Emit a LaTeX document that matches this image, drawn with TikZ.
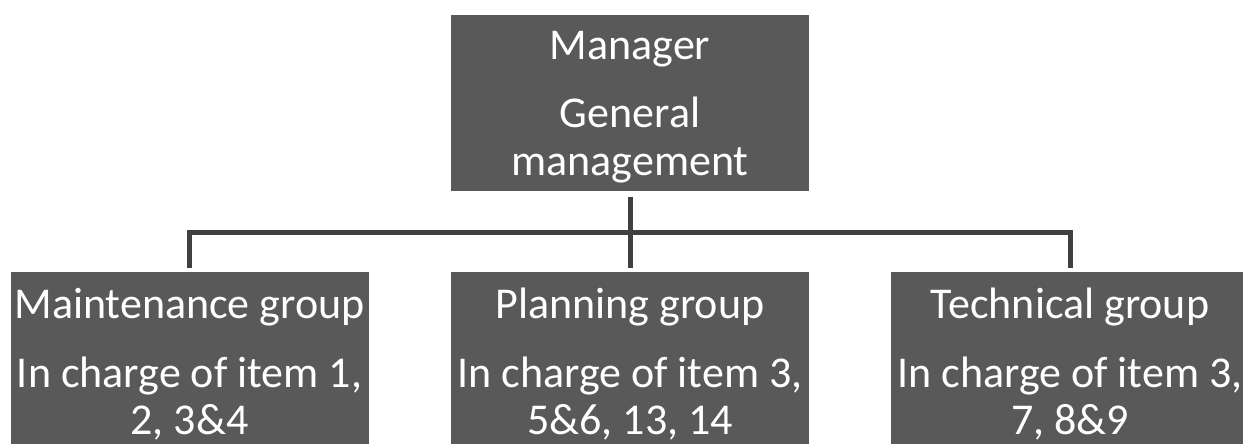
\documentclass[tikz,border=0pt]{standalone}
\usepackage{fontspec}
\setmainfont{Carlito}
\definecolor{boxgray}{HTML}{595959}
\definecolor{linegray}{HTML}{404040}
\begin{document}
\begin{tikzpicture}[x=1pt,y=-1pt,
  unit/.style={fill=boxgray, minimum width=358pt, minimum height=176pt,
    inner sep=0pt},
  unittext/.style={inner sep=0pt, align=center, text=white,
    font=\fontsize{44}{47.5}\selectfont},
  link/.style={draw=linegray, line width=5pt, line join=miter}]
  \useasboundingbox (0,0) rectangle (1243,444);
  \clip (0,0) rectangle (1243,444);

  % boxes
  \node[unit] (manager) at (630,103) {};
  \node[unit] (maint) at (189.5,360) {};
  \node[unit] (plan) at (630,360) {};
  \node[unit] (tech) at (1070,360) {};

  % box texts, set slightly below each box centre
  \node[unittext] (managerText) at ([yshift=-4pt]manager.center) {Manager\\[21pt]General\\management};
  \node[unittext] (maintText) at ([yshift=-4.5pt]maint.center) {Maintenance group\\[21pt]In charge of item 1,\\2, 3\&4};
  \node[unittext] (planText) at ([yshift=-4.5pt]plan.center) {Planning group\\[21pt]In charge of item 3,\\5\&6, 13, 14};
  \node[unittext] (techText) at ([yshift=-4.5pt]tech.center) {Technical group\\[21pt]In charge of item 3,\\7, 8\&9};

  % connectors
  \coordinate (bus) at (630,232);
  \draw[link, shorten <=6pt, shorten >=4pt] (manager) -- (plan);
  \draw[link, shorten <=4pt, shorten >=4pt] (maint.north) |- (bus) -| (tech.north);
\end{tikzpicture}
\end{document}
